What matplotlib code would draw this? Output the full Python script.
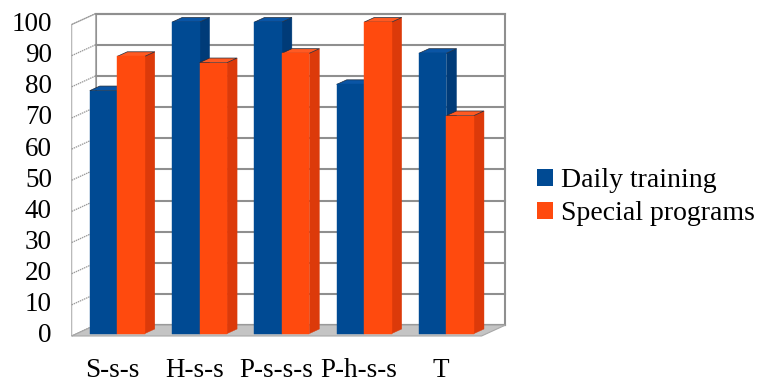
"""Clustered pseudo-3D bar chart: daily training vs special programs"""
import matplotlib
matplotlib.use("Agg")
import matplotlib.pyplot as plt
from matplotlib.patches import Polygon, Patch

plt.rcParams['font.family'] = ['Liberation Serif', 'DejaVu Serif']

categories = ["S-s-s", "H-s-s", "P-s-s-s", "P-h-s-s", "T"]
daily_training = [78, 100, 100, 80, 90]
special_programs = [89, 87, 90, 100, 70]
y_ticks = list(range(0, 101, 10))
series_labels = ["Daily training", "Special programs"]

# oblique projection: moving from the front plane (t=0) to the back wall (t=1)
DEPTH_X = 0.29
DEPTH_Y = 3.5
BAR_W = 0.334
BAR_T0, BAR_T1 = 0.22, 0.64
WALL_X0, WALL_X1 = -0.49, 4.49
Y_MAX = 100

BLUE = ("#004A93", "#003B78", "#0A55A5")
ORANGE = ("#FF4A0E", "#DC3A0A", "#FF5A22")
GRID = "#8F8F8F"
FLOOR = "#C4C4C4"


def proj(x, y, t):
    """Project a point at depth t onto the drawing plane"""
    return (x + t * DEPTH_X, y + t * DEPTH_Y)


def draw_walls(ax):
    """Back wall, left side wall and floor with their gridlines"""
    back = [proj(WALL_X0, 0, 1), proj(WALL_X1, 0, 1),
            proj(WALL_X1, Y_MAX, 1), proj(WALL_X0, Y_MAX, 1)]
    ax.add_patch(Polygon(back, closed=True, facecolor="white",
                         edgecolor=GRID, lw=1.5, zorder=1))
    side = [proj(WALL_X0, 0, 0), proj(WALL_X0, 0, 1),
            proj(WALL_X0, Y_MAX, 1), proj(WALL_X0, Y_MAX, 0)]
    ax.add_patch(Polygon(side, closed=True, facecolor="white",
                         edgecolor="#B0B0B0", lw=0.8, zorder=1))
    for v in y_ticks:
        x0, y0 = proj(WALL_X0, v, 1)
        x1, y1 = proj(WALL_X1, v, 1)
        ax.plot([x0, x1], [y0, y1], color=GRID, lw=1.5, zorder=2)
        fx, fy = proj(WALL_X0, v, 0)
        ax.plot([fx, x0], [fy, y0], color="#9A9A9A", lw=0.9,
                ls=(0, (1.2, 0.6)), zorder=2)
    floor = [proj(WALL_X0, 0, 0), proj(WALL_X1, 0, 0),
             proj(WALL_X1, 0, 1), proj(WALL_X0, 0, 1)]
    ax.add_patch(Polygon(floor, closed=True, facecolor=FLOOR,
                         edgecolor="#A8A8A8", lw=0.8, zorder=3))


def draw_box(ax, x0, height, colors, z):
    """Draw one bar as a box: side face, top face and front face"""
    front_c, side_c, top_c = colors
    x1 = x0 + BAR_W
    side = [proj(x1, 0, BAR_T0), proj(x1, 0, BAR_T1),
            proj(x1, height, BAR_T1), proj(x1, height, BAR_T0)]
    top = [proj(x0, height, BAR_T0), proj(x1, height, BAR_T0),
           proj(x1, height, BAR_T1), proj(x0, height, BAR_T1)]
    front = [proj(x0, 0, BAR_T0), proj(x1, 0, BAR_T0),
             proj(x1, height, BAR_T0), proj(x0, height, BAR_T0)]
    ax.add_patch(Polygon(side, closed=True, facecolor=side_c,
                         edgecolor=side_c, lw=0.3, zorder=z))
    ax.add_patch(Polygon(top, closed=True, facecolor=top_c,
                         edgecolor="#1E2A3A", lw=0.5, zorder=z))
    ax.add_patch(Polygon(front, closed=True, facecolor=front_c,
                         edgecolor=front_c, lw=0.3, zorder=z))


fig = plt.figure(figsize=(7.58, 3.82), dpi=100)
ax = fig.add_axes([0, 0, 1, 1])
ax.set_xlim(-1.361, 7.849)
ax.set_ylim(-14.77, 107.87)
ax.axis("off")

draw_walls(ax)

z = 4
for i, (d, s) in enumerate(zip(daily_training, special_programs)):
    draw_box(ax, i - BAR_W, d, BLUE, z)
    draw_box(ax, i, s, ORANGE, z + 1)
    z += 2

for v in y_ticks:
    ax.text(-0.73, v, str(v), ha="right", va="center", fontsize=19.5)

for i, name in enumerate(categories):
    ax.text(i, -11.0, name, ha="center", va="center", fontsize=19.5)

handles = [Patch(facecolor=BLUE[0], label=series_labels[0]),
           Patch(facecolor=ORANGE[0], label=series_labels[1])]
fig.legend(handles=handles, loc="center left", bbox_to_anchor=(0.708, 0.484),
           frameon=False, fontsize=20, handlelength=0.58, handleheight=0.58,
           handletextpad=0.3, labelspacing=0.3, borderpad=0, borderaxespad=0)

fig.savefig("out.png", dpi=100)
